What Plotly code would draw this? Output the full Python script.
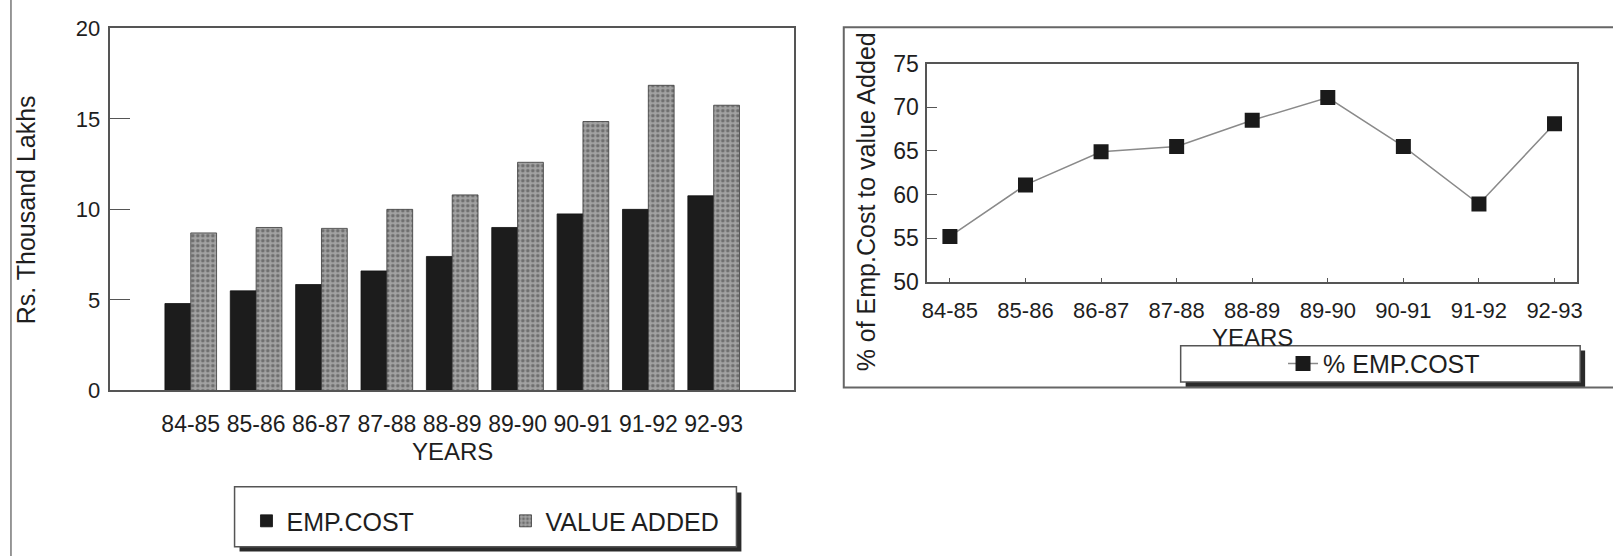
import plotly.graph_objects as go

# ---------------- data ----------------
years = ["84-85", "85-86", "86-87", "87-88", "88-89", "89-90", "90-91", "91-92", "92-93"]
emp_cost = [4.8, 5.5, 5.85, 6.6, 7.4, 9.0, 9.75, 10.0, 10.75]
value_added = [8.7, 9.0, 8.95, 10.0, 10.8, 12.6, 14.85, 16.85, 15.75]
pct_emp_cost = [55.2, 61.1, 64.9, 65.5, 68.5, 71.1, 65.5, 58.9, 68.1]

left_yticks = [0, 5, 10, 15, 20]
right_yticks = [50, 55, 60, 65, 70, 75]

W, H = 1613, 556
FONT = "Liberation Sans, Arial, sans-serif"
TXT = "#1e1e1e"


def px(x):
    return x / W


def py(y):
    return 1 - y / H


fig = go.Figure()

# ---------------- left chart: bars ----------------
fig.add_trace(go.Bar(
    x=years, y=emp_cost, name="EMP.COST",
    marker=dict(color="#1c1c1c", line=dict(color="#111111", width=0.8)),
    xaxis="x", yaxis="y", legend="legend",
))
fig.add_trace(go.Bar(
    x=years, y=value_added, name="VALUE ADDED",
    marker=dict(color="#a2a2a2", line=dict(color="#3a3a3a", width=0.8),
                pattern=dict(shape=".", fgcolor="#3a3a3a", bgcolor="#a2a2a2",
                             size=5, solidity=0.4)),
    xaxis="x", yaxis="y", legend="legend",
))

# ---------------- right chart: line ----------------
fig.add_trace(go.Scatter(
    x=years, y=pct_emp_cost, name="% EMP.COST", mode="lines+markers",
    line=dict(color="#8a8a8a", width=1.5),
    marker=dict(symbol="square", size=15, color="#1a1a1a"),
    xaxis="x2", yaxis="y2", legend="legend2",
))

axis_line = "#555555"

fig.update_layout(
    width=W, height=H,
    margin=dict(l=0, r=0, t=0, b=0),
    paper_bgcolor="white", plot_bgcolor="white",
    font=dict(family=FONT, color=TXT, size=21),
    barmode="group", bargap=0.21, bargroupgap=0.0,
    showlegend=True,
    xaxis=dict(
        domain=[px(106), px(794)], anchor="y", type="category",
        categoryorder="array", categoryarray=years,
        range=[-1.23, 9.23],
        showline=True, linecolor=axis_line, linewidth=1.5, mirror=True,
        ticks="", showgrid=False, zeroline=False,
        tickfont=dict(size=23, color=TXT), ticklabelstandoff=12,
    ),
    yaxis=dict(
        domain=[py(396), py(16)], anchor="x",
        range=[0, 20], tickvals=left_yticks,
        showline=True, linecolor=axis_line, linewidth=1.5, mirror=True,
        ticks="inside", ticklen=20, tickcolor=axis_line, tickwidth=1.2,
        showgrid=False, zeroline=False,
        tickfont=dict(size=22, color=TXT), ticklabelstandoff=4,
    ),
    xaxis2=dict(
        domain=[px(928), px(1582)], anchor="y2", type="category",
        categoryorder="array", categoryarray=years,
        range=[-0.3, 8.3],
        showline=True, linecolor=axis_line, linewidth=1.5, mirror=True,
        ticks="inside", ticklen=4, tickcolor=axis_line,
        showgrid=False, zeroline=False,
        tickfont=dict(size=22, color=TXT), ticklabelstandoff=8,
    ),
    yaxis2=dict(
        domain=[py(282), py(53)], anchor="x2",
        range=[50, 75], tickvals=right_yticks,
        showline=True, linecolor=axis_line, linewidth=1.5, mirror=True,
        ticks="inside", ticklen=10, tickcolor=axis_line, tickwidth=1.2,
        showgrid=False, zeroline=False,
        tickfont=dict(size=23, color=TXT), ticklabelstandoff=2,
    ),
    legend=dict(
        orientation="h", x=px(243), y=py(533), xanchor="left", yanchor="middle",
        bgcolor="rgba(0,0,0,0)", borderwidth=0,
        font=dict(size=25, color=TXT), entrywidth=214, traceorder="normal",
    ),
    legend2=dict(
        orientation="h", x=px(1286), y=py(368), xanchor="left", yanchor="middle",
        bgcolor="rgba(0,0,0,0)", borderwidth=0,
        font=dict(size=25, color=TXT),
    ),
)

shapes = []
# left outer frame line
shapes.append(dict(type="line", xref="paper", yref="paper",
                   x0=px(6), x1=px(6), y0=-0.05, y1=1.05,
                   line=dict(color="#777777", width=1.5)))
# right chart outer frame
shapes.append(dict(type="rect", xref="paper", yref="paper",
                   x0=px(844), x1=px(1625), y0=py(393), y1=py(15),
                   line=dict(color="#666666", width=2), layer="below"))
# left legend box with shadow
shapes.append(dict(type="rect", xref="paper", yref="paper",
                   x0=px(236), x1=px(741), y0=py(565), y1=py(503),
                   fillcolor="#2a2a2a", line=dict(width=0), layer="below"))
shapes.append(dict(type="rect", xref="paper", yref="paper",
                   x0=px(231), x1=px(736), y0=py(560), y1=py(497),
                   fillcolor="white", line=dict(color="#555555", width=1.5), layer="below"))
# right legend box with shadow
shapes.append(dict(type="rect", xref="paper", yref="paper",
                   x0=px(1188), x1=px(1590), y0=py(392), y1=py(354),
                   fillcolor="#2a2a2a", line=dict(width=0), layer="below"))
shapes.append(dict(type="rect", xref="paper", yref="paper",
                   x0=px(1183), x1=px(1585), y0=py(387), y1=py(349),
                   fillcolor="white", line=dict(color="#555555", width=1.5), layer="below"))
fig.update_layout(shapes=shapes)

annotations = [
    dict(text="Rs. Thousand Lakhs", xref="paper", yref="paper",
         x=px(21), y=py(206), textangle=-90, showarrow=False,
         font=dict(size=25, color=TXT), xanchor="center", yanchor="middle"),
    dict(text="YEARS", xref="paper", yref="paper",
         x=px(450), y=py(460), showarrow=False,
         font=dict(size=24, color=TXT), xanchor="center", yanchor="middle"),
    dict(text="% of Emp.Cost to value Added", xref="paper", yref="paper",
         x=px(866), y=py(198), textangle=-90, showarrow=False,
         font=dict(size=25, color=TXT), xanchor="center", yanchor="middle"),
    dict(text="YEARS", xref="paper", yref="paper",
         x=px(1255), y=py(340), showarrow=False,
         font=dict(size=24, color=TXT), xanchor="center", yanchor="middle"),
]
fig.update_layout(annotations=annotations)

fig.write_html("out.html")
